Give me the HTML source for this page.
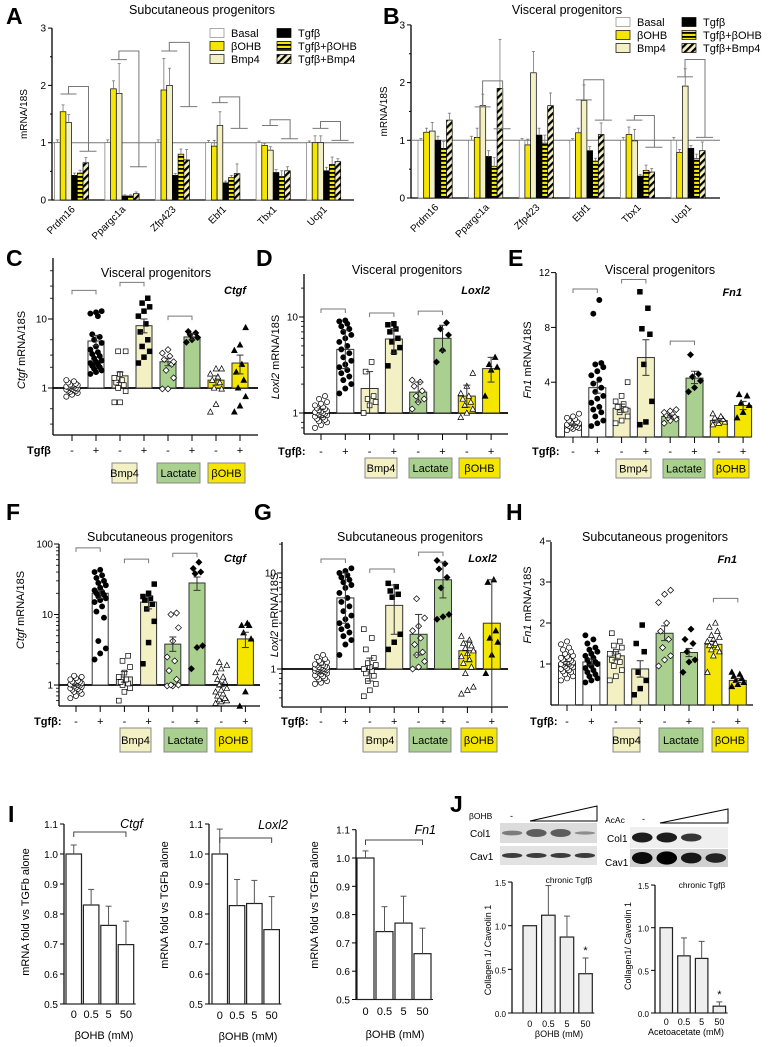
<!DOCTYPE html>
<html><head><meta charset="utf-8">
<style>body{margin:0;background:#fff}svg{display:block;font-family:"Liberation Sans",Arial,sans-serif}</style>
</head><body>
<svg id="fig" width="769" height="1047" viewBox="0 0 769 1047">
<defs>
<pattern id="hz" width="6" height="4" patternUnits="userSpaceOnUse"><rect width="6" height="4" fill="#f5e600"/><rect width="6" height="1.8" fill="#000"/></pattern>
<pattern id="dg" width="5" height="5" patternUnits="userSpaceOnUse" patternTransform="rotate(45)"><rect width="5" height="5" fill="#f3f0c4"/><rect width="2.2" height="5" fill="#000"/></pattern>
</defs>
<rect width="769" height="1047" fill="#fff"/>
</svg>
<script>
// ---------- DATA ----------
const genes=['Prdm16','Ppargc1a','Zfp423','Ebf1','Tbx1','Ucp1'];
const legendLabels=['Basal','βOHB','Bmp4','Tgfβ','Tgfβ+βOHB','Tgfβ+Bmp4'];
const aVals=[[1,1.54,1.35,0.43,0.47,0.65],[1,1.94,1.86,0.07,0.07,0.11],[1,1.92,2.0,0.43,0.8,0.7],[1,0.94,1.3,0.3,0.39,0.46],[1,0.95,0.87,0.48,0.41,0.51],[1,1.0,1.0,0.51,0.62,0.67]];
const aErr=[[.05,.12,.14,.04,.05,.09],[.05,.14,.52,.02,.02,.03],[.05,.55,.3,.03,.09,.18],[.04,.1,.24,.03,.04,.17],[.03,.04,.06,.05,.1,.07],[.03,.12,.12,.06,.13,.05]];
const aBrackets=[[0,1.85,1.98,0.85],[1,2.45,2.6,0.58],[2,2.6,2.75,1.63],[3,1.7,1.8,1.25],[4,1.3,1.4,1.07],[5,1.25,1.37,1.04]];
const bVals=[[1,1.14,1.16,1.0,0.86,1.35],[1,1.05,1.6,0.72,0.55,1.9],[1,0.92,2.17,1.09,0.95,1.6],[1,1.13,1.69,0.82,0.64,1.1],[1,1.1,0.99,0.38,0.48,0.45],[1,0.79,1.94,0.86,0.68,0.82]];
const bErr=[[.03,.07,.15,.07,.12,.12],[.07,.16,.2,.1,.15,.85],[.03,.1,.37,.12,.14,.22],[.03,.08,.27,.07,.05,.2],[.05,.13,.2,.03,.09,.06],[.05,.05,.3,.05,.08,.15]];
const bBrackets=[[1,1.58,2.03,1.2],[3,1.7,2.05,1.35],[4,1.35,1.43,0.88],[5,2.1,2.4,1.05]];

const tgfSigns=['-','+','-','+','-','+','-','+'];
const cMeans=[1,4.8,1.5,8,2.4,5.5,1.3,2.3], cLo=[0.97,4.1,1.2,6.3,2.1,5.0,1.1,1.6], cHi=[1.03,5.8,1.7,10,2.7,6.1,1.5,3.0];
const cPts=[[0.75,0.8,0.85,0.88,0.9,0.92,0.94,0.95,0.97,0.98,1.0,1.0,1.02,1.04,1.05,1.07,1.1,1.12,1.15,1.2,1.25,1.3],
[1.6,1.7,1.8,1.9,2.0,2.1,2.2,2.3,2.4,2.5,2.7,2.9,3.1,3.3,3.6,4.0,4.5,5.0,5.5,6.0,11,12,12.5,13],
[0.62,0.62,0.9,1.0,1.1,1.2,1.3,1.4,1.6,3.4,3.4],[2.3,2.8,3.4,4.0,5.0,6.5,8.5,11,13,15,17,20],
[0.97,0.97,1.4,1.8,2.2,2.6,2.9,3.2,3.6,2.4],[4.6,5.0,5.4,5.9,6.3,6.6],
[0.45,0.58,0.97,1.0,1.2,1.3,1.45,1.6,1.9,1.9],[0.45,0.55,0.75,1.0,1.3,1.7,2.2,3.5,4.2,7.5]];
const cBr=[[0,1,26],[2,3,34],[4,5,11]];
const dMeans=[1,4.6,1.8,5.9,1.65,6.0,1.5,2.9], dLo=[0.9,2.9,1.0,4.2,1.3,4.4,1.15,2.1], dHi=[1.1,7.3,2.7,7.6,2.1,8.2,1.95,3.8];
const dPts=[[0.7,0.75,0.8,0.82,0.85,0.87,0.9,0.92,0.94,0.95,0.97,0.98,1.0,1.0,1.02,1.03,1.05,1.07,1.1,1.12,1.15,1.2,1.25,1.3,1.4,1.5],
[1.6,1.8,2.0,2.2,2.4,2.6,2.8,3.0,3.2,3.5,3.8,4.2,4.6,5.0,5.5,6.0,6.5,7.0,7.5,8.0,8.5,9.0,9.2],
[1.0,1.2,1.3,1.4,1.5,2.7,3.4],[3.1,4.3,4.8,5.5,6.0,7.0,7.5,8.3,8.5],[1.1,1.3,1.4,1.5,1.7,1.9,2.1,2.2],
[3.4,4.5,6.5,7.5,8.7],[0.9,1.0,1.1,1.2,1.3,1.4,1.5,1.6,1.9,2.6],[1.5,2.8,3.0,3.2,3.8]];
const dBr=[[0,1,12.1],[2,3,11],[4,5,11.5]];
const eMeans=[0.9,3.6,2.1,5.8,1.5,4.3,1.2,2.3], eLo=[0.85,3.2,1.8,4.5,1.4,3.9,1.15,2.0], eHi=[0.95,4.0,2.4,7.1,1.6,4.8,1.25,2.6];
const ePts=[[0.5,0.6,0.65,0.7,0.75,0.8,0.85,0.9,0.95,1.0,1.05,1.1,1.2,1.3,1.4,1.5,1.7],
[0.8,1.0,1.2,1.5,1.8,2.0,2.2,2.5,2.8,3.0,3.3,3.6,3.9,4.2,4.5,4.8,5.1,5.3,5.4,9.0,10.0],
[1.0,1.2,1.5,1.8,2.0,2.2,2.4,2.6,3.0,4.0],[0.9,1.1,2.6,5.3,7.5,7.9,9.4,10.6],[1.0,1.2,1.3,1.4,1.5,1.6,1.7,1.8,1.9,2.0],
[3.3,3.6,4.1,4.4,4.6,6.0],[0.9,1.0,1.1,1.2,1.3,1.4,1.5,1.7],[1.4,1.8,2.3,2.5,3.0,3.1]];
const eBr=[[0,1,10.8],[2,3,11.5],[4,5,7.0]];
const fMeans=[1,20,1.3,15,3.8,28,1.0,4.5], fLo=[0.97,17,1.1,12,3.0,22,0.95,3.4], fHi=[1.03,22,1.55,18,4.8,34,1.07,5.6];
const fPts=[[0.65,0.7,0.75,0.8,0.83,0.86,0.88,0.9,0.92,0.94,0.96,0.98,1.0,1.0,1.02,1.04,1.06,1.08,1.1,1.12,1.15,1.2,1.25,1.3,1.35],
[2.3,2.8,3.3,4.2,9,11,13,15,16,17,18,19,20,21,22,24,26,28,30,33,36,40,43],
[0.6,0.8,0.9,1.0,1.05,1.1,1.2,1.3,1.5,1.8,2.2,2.6],[2.0,4.0,8.0,12,14,16,17,18,20,27],
[0.97,0.97,1.0,1.0,1.2,1.6,2.2,2.5,4.2,6.5,10,10.5],[1.7,3.4,3.6,38,40,45,55],
[0.55,0.58,0.6,0.62,0.65,0.7,0.75,0.8,0.85,0.9,1.0,1.1,1.2,1.3,1.5,1.7,1.9,2.1],[0.5,0.8,4.5,5.5,7,7,7.5]];
const fBr=[[0,1,88],[2,3,61],[4,5,74]];
const gMeans=[1.0,5.5,1.0,4.6,2.3,8.5,1.55,3.0], gLo=[0.9,3.0,0.75,2.3,1.4,5.5,1.2,0.4], gHi=[1.1,10.0,1.3,7.5,3.7,13,1.95,8.5];
const gPts=[[0.7,0.72,0.75,0.78,0.8,0.82,0.84,0.86,0.88,0.9,0.92,0.93,0.94,0.95,0.96,0.97,0.98,0.99,1.0,1.0,1.01,1.02,1.03,1.04,1.05,1.07,1.09,1.1,1.12,1.15,1.18,1.22,1.27,1.33,1.4],
[1.4,1.8,2.0,2.2,2.4,2.6,2.8,3.0,3.3,3.6,4.0,4.5,5.0,5.5,6.2,7.0,7.5,8.0,8.5,9.0,9.5,10,10.5,11.2],
[0.52,0.6,0.7,0.75,0.85,0.9,0.95,1.0,1.05,1.1,1.15,1.3,1.6,2.1,2.6],[1.6,1.9,2.3,5.6,6.0,6.5,7.2,7.8],
[1.0,1.05,1.2,1.4,1.5,1.8,2.1,2.5,2.8,3.4,5.4],[3.3,3.5,3.7,7.0,9.0,11,12.5,13.5],
[0.55,0.6,0.65,0.9,1.05,1.15,1.25,1.35,1.45,1.55,1.65,1.75,1.85,2.0,2.2],[0.9,1.4,1.9,2.1,2.5,8.0,8.5]];
const gBr=[[0,1,14],[2,3,11],[4,5,16.5]];
const hMeans=[1.02,1.05,1.2,0.88,1.75,1.28,1.48,0.6], hLo=[0.98,0.98,1.1,0.68,1.57,1.18,1.4,0.55], hHi=[1.06,1.12,1.3,1.08,1.93,1.38,1.56,0.65];
const hPts=[[0.6,0.65,0.7,0.75,0.8,0.82,0.85,0.88,0.9,0.92,0.94,0.96,0.98,1.0,1.0,1.02,1.04,1.06,1.08,1.1,1.12,1.15,1.18,1.2,1.25,1.3,1.35,1.4,1.48,1.55],
[0.55,0.6,0.65,0.7,0.75,0.8,0.85,0.9,0.95,1.0,1.0,1.05,1.1,1.15,1.2,1.25,1.3,1.35,1.4,1.5,1.6,1.7],
[0.6,0.7,0.85,0.95,1.05,1.1,1.2,1.25,1.3,1.4,1.45,1.55,1.75],[0.25,0.4,0.6,0.8,1.3,1.5,1.95],
[0.95,1.1,1.2,1.4,1.6,1.8,2.0,2.5,2.7,2.8],[0.8,1.05,1.1,1.3,1.5,1.6,1.85],
[0.8,1.2,1.3,1.35,1.4,1.45,1.5,1.55,1.6,1.65,1.7,1.8,1.9,2.0],[0.45,0.5,0.55,0.6,0.65,0.7,0.75,0.8]];
const hBr=[[6,7,2.6]];

const doseLabels=['0','0.5','5','50'];
const i1Vals=[1.0,0.83,0.762,0.698], i1Err=[1.03,0.882,0.826,0.776];
const i2Vals=[1.0,0.828,0.835,0.748], i2Err=[1.083,0.915,0.912,0.858];
const i3Vals=[1.0,0.74,0.77,0.662], i3Err=[1.025,0.828,0.865,0.752];
const j1Vals=[1.0,1.12,0.87,0.45], j1Err=[1.0,1.46,1.11,0.63];
const j2Vals=[1.0,0.67,0.64,0.08], j2Err=[1.0,0.88,0.84,0.13];

// ---------- HELPERS ----------
const NS='http://www.w3.org/2000/svg', SVG=document.getElementById('fig');
function mk(tag,a,par){const e=document.createElementNS(NS,tag);for(const k in a)e.setAttribute(k,a[k]);(par||SVG).appendChild(e);return e;}
function grp(name){const g=mk('g',{});


return g;}
function tx(par,x,y,s,size,extra,name){const e=mk('text',Object.assign({x:x,y:y,'font-size':size},extra||{}),par);e.textContent=s;


return e;}
function ln(par,x1,y1,x2,y2,st,w,name){const e=mk('line',{x1:x1,y1:y1,x2:x2,y2:y2,stroke:st||'#000','stroke-width':w||1},par);


return e;}
function pl(par,pts,st,w,name){const e=mk('polyline',{points:pts,fill:'none',stroke:st||'#000','stroke-width':w||1},par);


return e;}

// panel letters
[['A',6,24],['B',383,24],['C',6,266],['D',256,266],['E',508,266],['F',6,520],['G',254,520],['H',506,520],['I',8,822],['J',450,812]].forEach(L=>{
 const t=tx(SVG,L[1],L[2],L[0],23,{'font-weight':'bold'},'panel-label-'+L[0].toLowerCase());});

// ---------- GROUPED PANELS A/B ----------
const fillsAB=['#fff','#f5e600','#f3f0c4','#000','url(#hz)','url(#dg)'];
function grouped(P){
 const g=grp(P.name);
 const y=v=>P.y0-v*P.unit;
 ln(g,P.ax,P.y0,P.ax,y(3),'#000',1.3,'y-axis');
 for(let v=0;v<=3;v+=0.5){const maj=v%1===0;ln(g,P.ax-(maj?4:2),y(v),P.ax,y(v),'#000',1,'y-tick');
  if(maj)tx(g,P.ax-6,y(v)+3.5,String(v),10,{'text-anchor':'end'},'y-tick-label');}
 ln(g,P.ax,P.y0,P.xEnd,P.y0,'#000',1.3,'x-axis');
 ln(g,P.ax,y(1),P.xEnd,y(1),'#777',1,'reference-line');
 const yl=tx(g,0,0,'mRNA/18S',10,{'text-anchor':'middle',transform:`translate(${P.ylx},${y(1.5)}) rotate(-90)`},'y-axis-title');
 tx(g,P.tx,14,P.title,12.5,{'text-anchor':'middle'},'chart-title');
 P.vals.forEach((row,gi)=>{const s=P.s0+gi*P.gap;
  row.forEach((v,bi)=>{const x=s+bi*P.bw;
   const r=mk('rect',{x:x,y:y(v),width:P.bw,height:P.y0-y(v),fill:fillsAB[bi],stroke:bi===0?'#777':'#000','stroke-width':0.7},g);
   
   
   const e=P.errs[gi][bi];ln(g,x+P.bw/2,y(v),x+P.bw/2,y(v+e),'#777',0.8,'error-bar');ln(g,x+P.bw/2-1.5,y(v+e),x+P.bw/2+1.5,y(v+e),'#777',0.8,'error-cap');});
  const cx=s+P.bw*3;
  tx(g,0,0,genes[gi],10,{'text-anchor':'end',transform:`translate(${cx+4},${P.y0+10}) rotate(-45)`},'x-tick-label');
 });
 P.br.forEach(b=>{const s=P.s0+b[0]*P.gap;
  ln(g,s+6,y(b[1]),s+22,y(b[1]),'#777',1,'bracket-left');
  pl(g,`${s+14},${y(b[1])} ${s+14},${y(b[2])} ${s+34},${y(b[2])} ${s+34},${y(b[3])}`,'#777',1,'bracket');
  ln(g,s+25,y(b[3]),s+42,y(b[3]),'#777',1,'bracket-right');});
 legendLabels.forEach((L,i)=>{const col=Math.floor(i/3),row=i%3;
  const x=P.lx+col*P.lcol,yy=P.ly+row*13;
  const r=mk('rect',{x:x,y:yy-4.5,width:14,height:9,fill:fillsAB[i],stroke:i===0?'#888':'#000','stroke-width':0.7},g);
  
  
  tx(g,x+21,yy+4,L,11,{},'legend-entry');});
}
grouped({name:'panel-a',ax:52,y0:200,unit:57.3,xEnd:354,s0:54.5,gap:50.4,bw:5.7,vals:aVals,errs:aErr,br:aBrackets,title:'Subcutaneous progenitors',tx:202,ylx:27,lx:210,ly:33,lcol:67});
grouped({name:'panel-b',ax:411,y0:198,unit:57.7,xEnd:720,s0:418,gap:50.6,bw:5.7,vals:bVals,errs:bErr,br:bBrackets,title:'Visceral progenitors',tx:567,ylx:387,lx:616,ly:22,lcol:66});

// ---------- SCATTER PANELS ----------
const sFill=['#fff','#fff','#f3f0c4','#f3f0c4','#a9d08e','#a9d08e','#f5e600','#f5e600'];
const sMark=['c','c','s','s','d','d','t','t'];
function marker(g,type,filled,x,y){const f=filled?'#000':'#fff';let e;
 if(type==='c')e=mk('circle',{cx:x,cy:y,r:2.6,fill:f,stroke:'#000','stroke-width':0.7},g);
 else if(type==='s')e=mk('rect',{x:x-2.4,y:y-2.4,width:4.8,height:4.8,fill:f,stroke:'#000','stroke-width':0.7},g);
 else if(type==='d')e=mk('polygon',{points:`${x},${y-3} ${x+3},${y} ${x},${y+3} ${x-3},${y}`,fill:f,stroke:'#000','stroke-width':0.7},g);
 else e=mk('polygon',{points:`${x},${y-3} ${x+2.8},${y+2.2} ${x-2.8},${y+2.2}`,fill:f,stroke:'#000','stroke-width':0.7},g);
 
 }
function scatter(P){
 const g=grp(P.name);const y=P.y;
 const cx=i=>P.c0+i*P.step;
 ln(g,P.ax,P.yTop,P.ax,P.yBot,'#000',1.3,'y-axis');
 P.major.forEach(v=>{ln(g,P.ax-5,y(v),P.ax,y(v),'#000',1,'y-tick');tx(g,P.ax-6,y(v)+3.5,String(v),10,{'text-anchor':'end'},'y-tick-label');});
 P.minor.forEach(v=>ln(g,P.ax-3,y(v),P.ax,y(v),'#000',0.8,'y-minor-tick'));
 ln(g,P.ax,P.yBot,P.xEnd,P.yBot,'#000',1.3,'x-axis');
 if(P.base>0)ln(g,P.ax,y(P.base),P.xEnd,y(P.base),'#000',1.8,'baseline');
 const yl=mk('text',{'font-size':11,'text-anchor':'middle',transform:`translate(${P.ylx},${P.ylcy}) rotate(-90)`},g);
 
 
 const t1=mk('tspan',{'font-style':'italic'},yl);t1.textContent=P.gene;const t2=mk('tspan',{},yl);t2.textContent=' mRNA/18S';
 tx(g,P.tx,P.ty,P.title,12.5,{'text-anchor':'middle'},'chart-title');
 tx(g,P.gx,P.gy,P.gene,11,{'font-style':'italic','font-weight':'bold','text-anchor':'end'},'gene-label');
 P.means.forEach((m,i)=>{const x=cx(i);const y1=Math.min(y(m),y(P.base)),h=Math.abs(y(m)-y(P.base));
  const r=mk('rect',{x:x-P.bw/2,y:y1,width:P.bw,height:h,fill:sFill[i],stroke:'#333','stroke-width':1},g);
  
  
  const pts=P.pts[i],n=pts.length;
  pts.forEach((v,k)=>{const off=(((k*3)%7)-3)*P.bw/8.5;marker(g,sMark[i],i%2===1,x+off,y(v));});
  ln(g,x,y(P.lo[i]),x,y(P.hi[i]),'#333',1,'error-bar');
  ln(g,x-3.5,y(P.hi[i]),x+3.5,y(P.hi[i]),'#333',1,'error-cap');
  ln(g,x-3.5,y(P.lo[i]),x+3.5,y(P.lo[i]),'#333',1,'error-cap');
  ln(g,x,P.yBot,x,P.yBot+6,'#000',1,'x-tick');
  tx(g,x,P.rowY,tgfSigns[i],11,{'text-anchor':'middle'},'tgf-sign');});
 P.br.forEach(b=>pl(g,`${cx(b[0])},${y(b[2])+4} ${cx(b[0])},${y(b[2])} ${cx(b[1])},${y(b[2])} ${cx(b[1])},${y(b[2])+4}`,'#777',1,'significance-bracket'));
 tx(g,P.tgx,P.rowY,'Tgfβ'+(P.colon?':':''),11,{'font-weight':'bold'},'tgf-row-label');
 [['Bmp4','#f3f0c4'],['Lactate','#a9d08e'],['βOHB','#f5e600']].forEach((B,k)=>{const bx=P.boxes[k];
  const r=mk('rect',{x:bx[0],y:P.boxY,width:bx[1]-bx[0],height:P.boxH,fill:B[1],stroke:'#888','stroke-width':1},g);
  
  
  tx(g,(bx[0]+bx[1])/2,P.boxY+P.boxH/2+4,B[0],11,{'text-anchor':'middle'},'treatment-label');});
}
const lg=(b,d)=>v=>b-d*Math.log10(v);
scatter({name:'panel-c',ax:53,yTop:258,yBot:435,xEnd:258,y:lg(388,69),base:1,major:[1,10],minor:[0.3,0.5,2,3,5,20,30,50],c0:72,step:24,bw:16,means:cMeans,lo:cLo,hi:cHi,pts:cPts,br:cBr,ylx:25,ylcy:350,gene:'Ctgf',title:'Visceral progenitors',tx:156,ty:277,gx:246,gy:294,rowY:454,tgx:27,colon:false,boxes:[[112,137],[157,200],[208,245]],boxY:463,boxH:20});
scatter({name:'panel-d',ax:304,yTop:274,yBot:434,xEnd:508,y:lg(413,96),base:1,major:[1,10],minor:[0.7,0.8,2,3,4,5,6,7,8,9,20],c0:321,step:24.3,bw:17,means:dMeans,lo:dLo,hi:dHi,pts:dPts,br:dBr,ylx:279,ylcy:357,gene:'Loxl2',title:'Visceral progenitors',tx:407,ty:274,gx:490,gy:294,rowY:455,tgx:278,colon:true,boxes:[[365,397],[409,452],[459,500]],boxY:458,boxH:20});
scatter({name:'panel-e',ax:556,yTop:273,yBot:437,xEnd:751,y:v=>437-v*13.7,base:0,major:[4,8,12],minor:[],c0:573,step:24.3,bw:17,means:eMeans,lo:eLo,hi:eHi,pts:ePts,br:eBr,ylx:531,ylcy:360,gene:'Fn1',title:'Visceral progenitors',tx:660,ty:274,gx:742,gy:296,rowY:455,tgx:532,colon:true,boxes:[[616,651],[663,705],[713,749]],boxY:459,boxH:19});
scatter({name:'panel-f',ax:59,yTop:544,yBot:706,xEnd:260,y:lg(685,70.5),base:1,major:[1,10,100],minor:[0.6,0.7,0.8,0.9,2,3,4,5,6,7,8,9,20,30,40,50,60,70,80,90],c0:76,step:24.2,bw:16,means:fMeans,lo:fLo,hi:fHi,pts:fPts,br:fBr,ylx:24,ylcy:610,gene:'Ctgf',title:'Subcutaneous progenitors',tx:160,ty:541,gx:246,gy:562,rowY:725,tgx:34,colon:true,boxes:[[120,151],[164,207],[215,252]],boxY:728,boxH:24});
scatter({name:'panel-g',ax:282,yTop:542,yBot:707,xEnd:508,y:lg(669,96),base:1,major:[1,10],minor:[0.5,0.6,0.7,0.8,0.9,2,3,4,5,6,7,8,9,20],c0:321,step:24.4,bw:17,means:gMeans,lo:gLo,hi:gHi,pts:gPts,br:gBr,ylx:278,ylcy:615,gene:'Loxl2',title:'Subcutaneous progenitors',tx:410,ty:541,gx:497,gy:562,rowY:725,tgx:281,colon:true,boxes:[[363,397],[409,451],[461,497]],boxY:728,boxH:24});
scatter({name:'panel-h',ax:551,yTop:542,yBot:705,xEnd:753,y:v=>705-v*41,base:0,major:[1,2,3,4],minor:[],c0:567,step:24.4,bw:17,means:hMeans,lo:hLo,hi:hHi,pts:hPts,br:hBr,ylx:531,ylcy:605,gene:'Fn1',title:'Subcutaneous progenitors',tx:655,ty:541,gx:737,gy:563,rowY:725,tgx:530,colon:true,boxes:[[613,640],[659,703],[712,748]],boxY:728,boxH:24});

// ---------- SIMPLE BAR PANELS I/J ----------
function simple(P){
 const g=grp(P.name);const y=P.y;
 ln(g,P.ax,y(P.yMax),P.ax,y(P.yMin),'#000',1.2,'y-axis');
 P.ticks.forEach(v=>{ln(g,P.ax-4,y(v),P.ax,y(v),'#000',1,'y-tick');tx(g,P.ax-6,y(v)+4,v.toFixed(1),P.fs,{'text-anchor':'end'},'y-tick-label');});
 const xe=P.x0+3*P.step+P.bw+2;
 ln(g,P.ax,y(P.yMin),xe,y(P.yMin),'#000',1,'x-axis');
 P.vals.forEach((v,i)=>{const x=P.x0+i*P.step;
  const r=mk('rect',{x:x,y:y(v),width:P.bw,height:y(P.yMin)-y(v),fill:P.fill,stroke:'#222','stroke-width':1.2},g);
  
  
  const c=x+P.bw/2;
  if(P.err[i]>v){ln(g,c,y(v),c,y(P.err[i]),'#555',1,'error-bar');ln(g,c-3,y(P.err[i]),c+3,y(P.err[i]),'#555',1,'error-cap');}
  tx(g,c,P.labY,doseLabels[i],P.fs+1,{'text-anchor':'middle'},'x-tick-label');
  if(P.star&&i===3)tx(g,c,y(P.err[i])-4,'*',11,{'text-anchor':'middle'},'significance-star');});
 tx(g,P.xtx,P.xty,P.xtitle,P.fs+1,{'text-anchor':'middle'},'x-axis-title');
 tx(g,0,0,P.ytitle,P.yfs,{'text-anchor':'middle',transform:`translate(${P.ylx},${P.ylcy}) rotate(-90)`},'y-axis-title');
 if(P.gene)tx(g,P.gx,P.gy,P.gene,12.5,{'font-style':'italic','text-anchor':'end'},'gene-label');
 if(P.brY){const a=P.x0+P.bw/2,b=P.x0+3*P.step+P.bw/2;pl(g,`${a},${P.brY+5} ${a},${P.brY} ${b},${P.brY} ${b},${P.brY+5}`,'#444',1,'significance-bracket');}
 if(P.note)tx(g,P.nx,P.ny,P.note,8.5,{'text-anchor':'middle'},'chart-note');
}
const yI=v=>854-(v-1)*300, yI3=v=>858-(v-1)*283;
const iTicks=[0.5,0.6,0.7,0.8,0.9,1.0,1.1];
simple({name:'panel-i-ctgf',ax:64,y:yI,yMin:0.5,yMax:1.1,ticks:iTicks,fs:10,x0:66,step:17.4,bw:15.5,vals:i1Vals,err:i1Err,fill:'#fff',labY:1018,xtx:104,xty:1039,xtitle:'βOHB (mM)',ytitle:'mRNA fold  vs  TGFb alone',yfs:11,ylx:29,ylcy:912,gene:'Ctgf',gx:143,gy:828,brY:832});
simple({name:'panel-i-loxl2',ax:209,y:yI,yMin:0.5,yMax:1.1,ticks:iTicks,fs:10,x0:212,step:17.3,bw:15.5,vals:i2Vals,err:i2Err,fill:'#fff',labY:1019,xtx:248,xty:1040,xtitle:'βOHB (mM)',ytitle:'mRNA fold vs  TGFb alone',yfs:11,ylx:168,ylcy:905,gene:'Loxl2',gx:288,gy:829,brY:838});
simple({name:'panel-i-fn1',ax:356,y:yI3,yMin:0.5,yMax:1.1,ticks:iTicks,fs:10,x0:357,step:19,bw:17,vals:i3Vals,err:i3Err,fill:'#fff',labY:1015,xtx:395,xty:1038,xtitle:'βOHB (mM)',ytitle:'mRNA fold  vs  TGFb alone',yfs:11,ylx:318,ylcy:905,gene:'Fn1',gx:436,gy:834,brY:840});
simple({name:'panel-j-bohb',ax:512,y:v=>1013-v*87.3,yMin:0,yMax:1.5,ticks:[0,0.5,1.0,1.5],fs:8,x0:523,step:18.6,bw:13.5,vals:j1Vals,err:j1Err,fill:'#eee',labY:1027,xtx:559,xty:1037,xtitle:'βOHB (mM)',ytitle:'Collagen 1/ Caveolin 1',yfs:9,ylx:491,ylcy:950,star:true,note:'chronic Tgfβ',nx:569,ny:883});
simple({name:'panel-j-acac',ax:655,y:v=>1013-v*85.3,yMin:0,yMax:1.5,ticks:[0,0.5,1.0,1.5],fs:8,x0:660,step:17.7,bw:12.5,vals:j2Vals,err:j2Err,fill:'#eee',labY:1025,xtx:686,xty:1035,xtitle:'Acetoacetate (mM)',ytitle:'Collagen1/ Caveolin 1',yfs:9,ylx:631,ylcy:946,star:true,note:'chronic Tgfβ',nx:702,ny:888});

// ---------- WESTERN BLOTS ----------
function blot(name,x0,x1,rows,bands){
 const g=grp(name);
 rows.forEach((R,ri)=>{const r=mk('rect',{x:x0,y:R[0],width:x1-x0,height:R[1]-R[0],fill:R[2]},g);
  
  
  const lw=(x1-x0)/4;
  bands[ri].forEach((b,li)=>{if(b<=0)return;const cx=x0+lw*(li+0.5),cy=(R[0]+R[1])/2;
   const e=mk('ellipse',{cx:cx,cy:cy,rx:lw*0.42,ry:R[3]*b,fill:R[4],opacity:Math.min(1,0.35+b*0.6)},g);
   
   });});
 return g;}
const b1=blot('blot-bohb',500,597,[[823,843,'#dcdcdc',4,'#555'],[846,865,'#e2e2e2',2.5,'#333']],[[0.6,1,1,0.4],[1,1,1,1]]);
const b2=blot('blot-acac',630,728,[[827,848,'#efefef',5,'#111'],[849,867,'#d0d0d0',6,'#000']],[[1,1,0.8,0],[1,1.1,0.9,0.8]]);
tx(SVG,469,819,'βOHB',8.5,{},'blot-treatment-label');
tx(SVG,510,819,'-',9,{},'blot-minus');
tx(SVG,470,837,'Col1',10,{},'blot-row-label');
tx(SVG,470,860,'Cav1',10,{},'blot-row-label');
tx(SVG,605,823,'AcAc',8.5,{},'blot-treatment-label');
tx(SVG,642,822,'-',9,{},'blot-minus');
tx(SVG,607,842,'Col1',10,{},'blot-row-label');
tx(SVG,605,866,'Cav1',10,{},'blot-row-label');
const tr1=mk('polygon',{points:'530,821 597,821 597,806',fill:'none',stroke:'#000','stroke-width':1});


const tr2=mk('polygon',{points:'660,823 728,823 728,809',fill:'none',stroke:'#000','stroke-width':1});


</script>
</body></html>
